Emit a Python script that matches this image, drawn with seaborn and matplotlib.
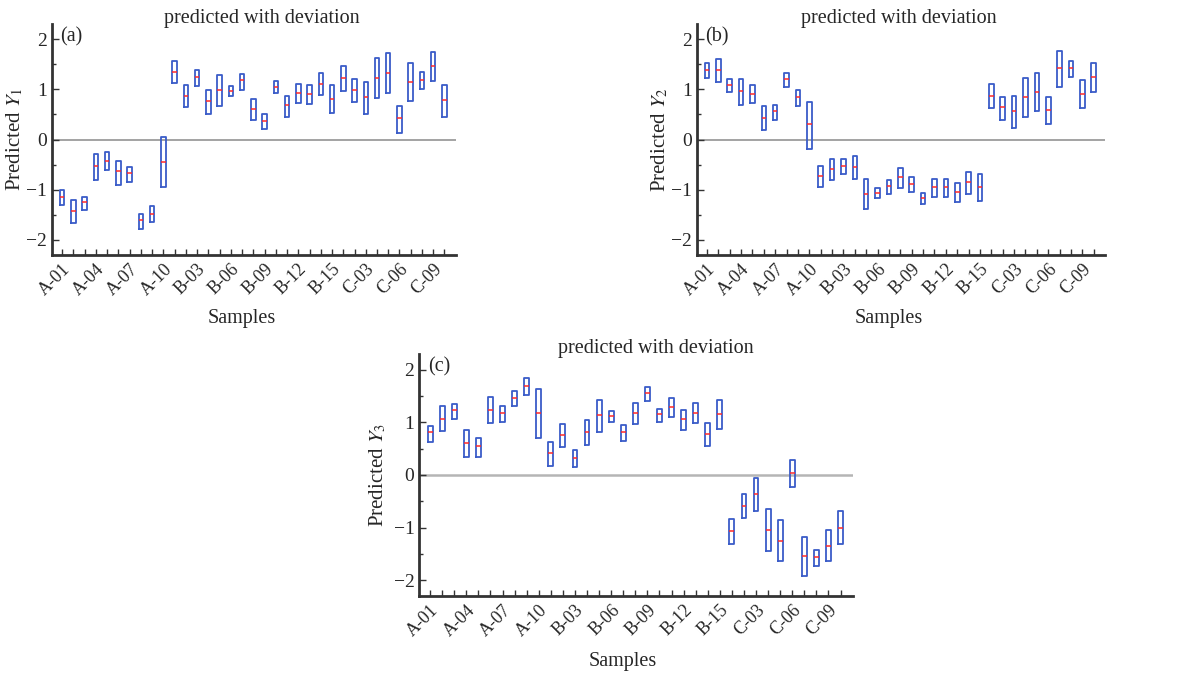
import numpy as np
import pandas as pd
import matplotlib
matplotlib.use("Agg")
import matplotlib.pyplot as plt
import seaborn as sns
from matplotlib.ticker import MultipleLocator

# sample names: A-01..A-10, B-01..B-15, C-01..C-10
samples = ([f"A-{i:02d}" for i in range(1, 11)] + [f"B-{i:02d}" for i in range(1, 16)]
           + [f"C-{i:02d}" for i in range(1, 11)])

# (a) predicted Y1 : upper, median, lower
y1_hi = [-1.00, -1.20, -1.14, -0.28, -0.24, -0.42, -0.54, -1.48, -1.32, 0.05,
         1.56, 1.08, 1.38, 0.98, 1.28, 1.06, 1.30, 0.80, 0.50, 1.16,
         0.86, 1.10, 1.08, 1.32, 1.08, 1.46, 1.20, 1.14, 1.62, 1.73,
         0.66, 1.53, 1.34, 1.74, 1.08]
y1_med = [-1.14, -1.42, -1.25, -0.52, -0.42, -0.63, -0.67, -1.61, -1.48, -0.44,
          1.34, 0.86, 1.24, 0.76, 0.98, 0.97, 1.18, 0.60, 0.37, 1.04,
          0.68, 0.92, 0.90, 1.10, 0.80, 1.22, 0.98, 0.84, 1.22, 1.32,
          0.43, 1.14, 1.18, 1.46, 0.78]
y1_lo = [-1.30, -1.67, -1.40, -0.80, -0.60, -0.90, -0.84, -1.78, -1.65, -0.94,
         1.12, 0.64, 1.06, 0.50, 0.66, 0.86, 0.98, 0.39, 0.21, 0.92,
         0.46, 0.72, 0.70, 0.88, 0.52, 0.96, 0.74, 0.50, 0.82, 0.92,
         0.14, 0.76, 1.00, 1.16, 0.46]

# (b) predicted Y2
y2_hi = [1.53, 1.60, 1.20, 1.20, 1.08, 0.66, 0.68, 1.33, 0.98, 0.74,
         -0.52, -0.38, -0.38, -0.32, -0.78, -0.96, -0.80, -0.56, -0.74, -1.06,
         -0.78, -0.78, -0.86, -0.64, -0.68, 1.10, 0.84, 0.86, 1.22, 1.33,
         0.84, 1.76, 1.56, 1.18, 1.53]
y2_med = [1.38, 1.38, 1.08, 0.96, 0.90, 0.44, 0.56, 1.21, 0.84, 0.31,
          -0.72, -0.58, -0.52, -0.54, -1.08, -1.06, -0.92, -0.74, -0.88, -1.16,
          -0.94, -0.94, -1.04, -0.84, -0.94, 0.86, 0.64, 0.56, 0.84, 0.94,
          0.58, 1.42, 1.42, 0.90, 1.24]
y2_lo = [1.22, 1.14, 0.94, 0.68, 0.72, 0.20, 0.39, 1.04, 0.66, -0.18,
         -0.94, -0.80, -0.68, -0.78, -1.38, -1.16, -1.08, -0.96, -1.04, -1.28,
         -1.14, -1.14, -1.24, -1.08, -1.22, 0.62, 0.40, 0.24, 0.46, 0.56,
         0.32, 1.04, 1.24, 0.62, 0.94]

# (c) predicted Y3
y3_hi = [0.93, 1.31, 1.34, 0.86, 0.70, 1.48, 1.31, 1.59, 1.85, 1.64,
         0.62, 0.97, 0.47, 1.05, 1.43, 1.21, 0.95, 1.37, 1.68, 1.25,
         1.47, 1.23, 1.36, 0.98, 1.43, -0.83, -0.37, -0.06, -0.65, -0.85,
         0.29, -1.17, -1.42, -1.05, -0.69]
y3_med = [0.81, 1.07, 1.23, 0.60, 0.55, 1.23, 1.17, 1.46, 1.70, 1.17,
          0.41, 0.76, 0.32, 0.81, 1.14, 1.12, 0.81, 1.17, 1.56, 1.15,
          1.30, 1.06, 1.17, 0.77, 1.16, -1.06, -0.58, -0.36, -1.05, -1.25,
          0.03, -1.54, -1.56, -1.34, -1.00]
y3_lo = [0.63, 0.83, 1.07, 0.34, 0.35, 0.99, 1.01, 1.31, 1.52, 0.70,
         0.18, 0.53, 0.15, 0.57, 0.81, 1.00, 0.64, 0.97, 1.40, 1.00,
         1.10, 0.86, 0.98, 0.55, 0.87, -1.32, -0.81, -0.68, -1.44, -1.64,
         -0.23, -1.91, -1.73, -1.63, -1.31]

panel_tags = ["(a)", "(b)", "(c)"]
ylabels = [r"Predicted $Y_1$", r"Predicted $Y_2$", r"Predicted $Y_3$"]

# long form: [lo, lo, med, hi, hi] gives quartiles = lo/hi and median = med
rows = []
for tag, hi, med, lo in zip(panel_tags, [y1_hi, y2_hi, y3_hi],
                            [y1_med, y2_med, y3_med], [y1_lo, y2_lo, y3_lo]):
    for s, h, m, l in zip(samples, hi, med, lo):
        for v in (l, l, m, h, h):
            rows.append({"panel": tag, "sample": s, "value": v})
df = pd.DataFrame(rows)

sns.set_style("ticks")
plt.rcParams["font.family"] = ["Liberation Serif", "DejaVu Serif"]
plt.rcParams["mathtext.fontset"] = "stix"

fig = plt.figure(figsize=(11.84, 6.75), dpi=100)
axes = [fig.add_axes([0.0439, 0.6222, 0.341, 0.342]),
        fig.add_axes([0.5884, 0.6222, 0.345, 0.342]),
        fig.add_axes([0.3541, 0.1170, 0.366, 0.3586])]
title_x = [0.52, 0.495, 0.546]
ylab_x = [-0.067, -0.065, -0.072]
zero_style = [("#8a8a8a", 1.1), ("#8a8a8a", 1.1), ("#b5b5b5", 1.8)]

for ax, tag, ylab, tx, yx, (zc, zw) in zip(axes, panel_tags, ylabels, title_x,
                                            ylab_x, zero_style):
    ax.axhline(0, color=zc, lw=zw, zorder=0)
    sns.boxplot(data=df[df["panel"] == tag], x="sample", y="value", ax=ax,
                order=samples, width=0.4, fill=False, color="#3a5cc8",
                linewidth=1.3, whis=0, showcaps=False, showfliers=False,
                medianprops={"color": "#ff2a2a", "linewidth": 1.1})
    ax.set_xlim(-0.9, 35.0)
    ax.set_ylim(-2.3, 2.3)
    ax.set_xticks(range(len(samples)))
    ax.set_xticklabels([s if i % 3 == 0 else "" for i, s in enumerate(samples)],
                       rotation=45, ha="right", rotation_mode="anchor", fontsize=13)
    ax.yaxis.set_major_locator(MultipleLocator(1))
    ax.yaxis.set_minor_locator(MultipleLocator(0.5))
    ax.tick_params(axis="both", which="both", direction="in", color="#333333")
    ax.tick_params(axis="x", length=4, width=1, pad=4)
    ax.tick_params(axis="y", which="major", length=5, width=1, labelsize=14)
    ax.tick_params(axis="y", which="minor", length=3, width=1)
    for side in ["top", "right"]:
        ax.spines[side].set_visible(False)
    for side in ["left", "bottom"]:
        ax.spines[side].set_color("#333333")
        ax.spines[side].set_linewidth(2)
    ax.set_title("predicted with deviation", fontsize=14.5, x=tx, y=1.0, pad=0.8)
    ax.set_xlabel("Samples", fontsize=14.5)
    ax.set_ylabel(ylab, fontsize=15)
    ax.xaxis.set_label_coords(0.47, -0.232)
    ax.yaxis.set_label_coords(yx, 0.5)
    ax.text(0.02, 0.985, tag, transform=ax.transAxes, ha="left", va="top", fontsize=14.5)

fig.savefig("out.png", dpi=100)
